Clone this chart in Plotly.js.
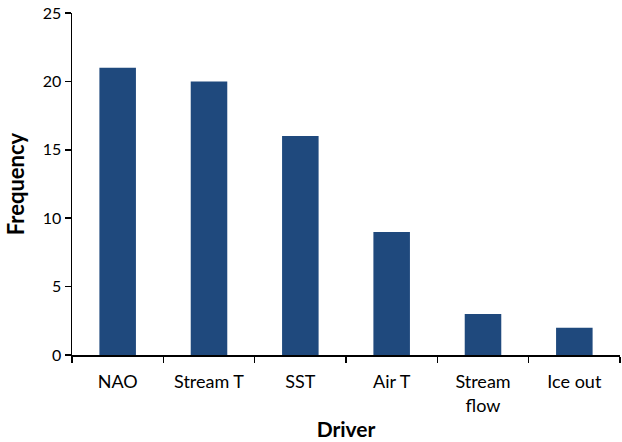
<!DOCTYPE html>
<html>
<head>
<meta charset="utf-8">
<script src="https://cdn.plot.ly/plotly-3.0.1.min.js"></script>
<style>
  html, body { margin: 0; padding: 0; background: #fff; }
  #chart { width: 622px; height: 442px; }
</style>
</head>
<body>
<div id="chart"></div>
<script>
// drivers and how often each was reported
const drivers = ['NAO', 'Stream T', 'SST', 'Air T', 'Stream<br>flow', 'Ice out'];
const frequency = [21, 20, 16, 9, 3, 2];
const yTicks = [0, 5, 10, 15, 20, 25];

const font = 'Lato, "Open Sans", sans-serif';

const data = [{
  type: 'bar',
  x: drivers,
  y: frequency,
  marker: { color: '#1f497d' },
  hoverinfo: 'x+y'
}];

const layout = {
  width: 622,
  height: 442,
  margin: { l: 72, r: 2, t: 13, b: 87 },
  paper_bgcolor: '#fff',
  plot_bgcolor: '#fff',
  bargap: 0.6,
  showlegend: false,
  font: { family: font, size: 17, color: '#000' },
  xaxis: {
    type: 'category',
    showline: true,
    linecolor: '#000',
    linewidth: 1.5,
    ticks: 'outside',
    tickson: 'boundaries',
    ticklen: 6,
    tickwidth: 1.5,
    tickcolor: '#000',
    showgrid: false,
    zeroline: false,
    ticklabelstandoff: 10,
    tickfont: { family: font, size: 18 },
    title: { text: '<b>Driver</b>', font: { family: font, size: 21 }, standoff: 8 }
  },
  yaxis: {
    range: [0, 25],
    tickvals: yTicks,
    showline: true,
    linecolor: '#000',
    linewidth: 1.5,
    ticks: 'outside',
    ticklen: 6,
    tickwidth: 1.5,
    tickcolor: '#000',
    showgrid: false,
    zeroline: false,
    tickfont: { family: font, size: 16 },
    title: { text: '<b>Frequency</b>', font: { family: font, size: 22 }, standoff: 12 }
  }
};

Plotly.newPlot('chart', data, layout, { displayModeBar: false, staticPlot: true });
</script>
</body>
</html>
